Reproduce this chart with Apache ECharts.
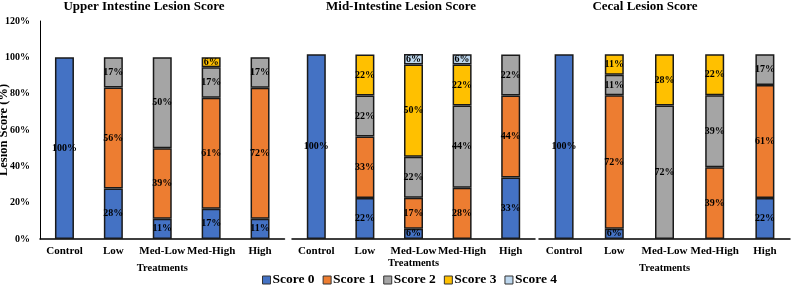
<!DOCTYPE html>
<html>
<head>
<meta charset="utf-8">
<script src="https://cdn.jsdelivr.net/npm/echarts@6/dist/echarts.min.js"></script>
<style>
  html, body { margin: 0; padding: 0; background: #fff; }
  #main { width: 791px; height: 292px; }
</style>
</head>
<body>
<div id="main"></div>
<script>
(() => {
  const chart = echarts.init(document.getElementById('main'));

  const treatments = ['Control', 'Low', 'Med-Low', 'Med-High', 'High'];
  const scores = ['Score 0', 'Score 1', 'Score 2', 'Score 3', 'Score 4'];
  const colors = ['#4472C4', '#ED7D31', '#A5A5A5', '#FFC000', '#BDD7EE'];
  const titles = ['Upper Intestine Lesion Score', 'Mid-Intestine Lesion Score', 'Cecal Lesion Score'];
  const yTicks = [0, 20, 40, 60, 80, 100, 120];

  // percent of birds per score, one row per score
  const upper = [
    [100, 27.8, 11.1, 16.7, 11.1],
    [0, 55.6, 38.9, 61.1, 72.2],
    [0, 16.7, 50, 16.7, 16.7],
    [0, 0, 0, 5.6, 0],
    [0, 0, 0, 0, 0]
  ];
  const mid = [
    [100, 22.2, 5.6, 0, 33.3],
    [0, 33.3, 16.7, 27.8, 44.4],
    [0, 22.2, 22.2, 44.4, 22.2],
    [0, 22.2, 50, 22.2, 0],
    [0, 0, 5.6, 5.6, 0]
  ];
  const cecal = [
    [100, 5.6, 0, 0, 22.2],
    [0, 72.2, 0, 38.9, 61.1],
    [0, 11.1, 72.2, 38.9, 16.7],
    [0, 11.1, 27.8, 22.2, 0],
    [0, 0, 0, 0, 0]
  ];

  const panels = [upper, mid, cecal];
  const font = 'Liberation Serif';

  const grids = [
    { left: 40, top: 21, width: 244.5, height: 218, outerBoundsMode: 'none' },
    { left: 292, top: 21, width: 243, height: 218, outerBoundsMode: 'none' },
    { left: 539, top: 21, width: 251, height: 218, outerBoundsMode: 'none' }
  ];
  const titleX = [144, 401, 645];
  const nameGaps = [24, 19, 24];

  const series = [];
  panels.forEach((rows, p) => {
    rows.forEach((vals, s) => {
      series.push({
        name: scores[s],
        type: 'bar',
        stack: 'p' + p,
        xAxisIndex: p,
        yAxisIndex: p,
        barWidth: 19,
        data: vals.map(v => (v === 0 ? '-' : v)),
        itemStyle: { color: colors[s], borderColor: '#1a1a1a', borderWidth: 1.5 },
        label: {
          show: true,
          position: 'inside',
          color: '#000',
          fontFamily: font,
          fontWeight: 'bold',
          fontSize: 10,
          formatter: d => Math.round(d.value) + '%'
        },
        emphasis: { disabled: true }
      });
    });
  });

  const option = {
    animation: false,
    title: titles.map((t, i) => ({
      text: t,
      left: titleX[i],
      top: 0,
      padding: 0,
      textAlign: 'center',
      textStyle: { fontFamily: font, fontWeight: 'bold', fontSize: 13, color: '#000' }
    })),
    legend: {
      data: scores,
      left: 257,
      top: 268,
      itemWidth: 8,
      itemHeight: 8,
      itemGap: 8,
      icon: 'rect',
      itemStyle: { borderColor: '#333', borderWidth: 1 },
      textStyle: { fontFamily: font, fontWeight: 'bold', fontSize: 13.5, color: '#000', padding: [0, 0, 0, -3] }
    },
    grid: grids,
    xAxis: grids.map((g, i) => ({
      type: 'category',
      gridIndex: i,
      data: treatments,
      name: 'Treatments',
      nameLocation: 'middle',
      nameGap: nameGaps[i],
      nameMoveOverlap: false,
      nameTextStyle: { fontFamily: font, fontWeight: 'bold', fontSize: 10.5, color: '#000' },
      axisLine: { lineStyle: { color: '#000', width: 1.5 } },
      axisTick: { show: false },
      axisLabel: { interval: 0, margin: 7, fontFamily: font, fontWeight: 'bold', fontSize: 11, color: '#000' }
    })),
    yAxis: grids.map((g, i) => ({
      type: 'value',
      gridIndex: i,
      min: 0,
      max: i === 0 ? yTicks[yTicks.length - 1] : 118,
      interval: 20,
      show: i === 0,
      name: i === 0 ? 'Lesion Score (%)' : '',
      nameLocation: 'middle',
      nameGap: 30,
      nameMoveOverlap: false,
      nameTextStyle: { fontFamily: font, fontWeight: 'bold', fontSize: 12.5, color: '#000' },
      axisLine: { show: true, lineStyle: { color: '#000', width: 1 } },
      axisTick: { show: false },
      splitLine: { show: false },
      axisLabel: { margin: 10, fontFamily: font, fontWeight: 'bold', fontSize: 10, color: '#000', formatter: '{value}%' }
    })),
    series: series
  };

  chart.setOption(option);
})();
</script>
</body>
</html>
